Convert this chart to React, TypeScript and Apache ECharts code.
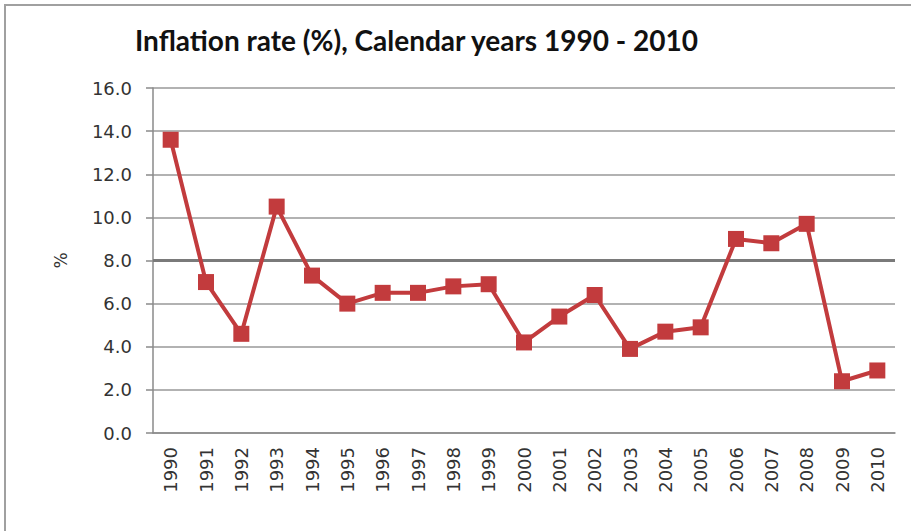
import React, { useEffect, useRef } from "react";
import * as echarts from "echarts";

const years = ["1990","1991","1992","1993","1994","1995","1996","1997","1998","1999","2000","2001","2002","2003","2004","2005","2006","2007","2008","2009","2010"];
const inflation = [13.6, 7.0, 4.6, 10.5, 7.3, 6.0, 6.5, 6.5, 6.8, 6.9, 4.2, 5.4, 6.4, 3.9, 4.7, 4.9, 9.0, 8.8, 9.7, 2.4, 2.9];
const emphasisLevel = 8;
const titleText = "Inflation rate (%), Calendar years 1990 - 2010";

export default function App() {
  const ref = useRef<HTMLDivElement>(null);
  useEffect(() => {
    document.body.style.margin = "0";
    if (!ref.current) return;
    const chart = echarts.init(ref.current, null, { renderer: "svg" });
    chart.setOption({
      animation: false,
      backgroundColor: "#ffffff",
      title: {
        text: titleText,
        left: 130,
        top: 21,
        textStyle: { fontFamily: "Lato", fontWeight: "bold", fontSize: 28, color: "#111111" },
      },
      graphic: [
        {
          type: "rect",
          shape: { x: 5, y: 5, width: 960, height: 600 },
          style: { fill: "none", stroke: "#a0a0a0", lineWidth: 2 },
          silent: true,
        },
      ],
      grid: { left: 153, right: 16, top: 88, bottom: 98 },
      xAxis: {
        type: "category",
        data: years,
        boundaryGap: true,
        axisLine: { lineStyle: { color: "#8a8a8a", width: 1.5 } },
        axisTick: { length: 7, lineStyle: { color: "#8a8a8a", width: 1.5 } },
        axisLabel: {
          rotate: 90,
          margin: 14,
          interval: 0,
          fontFamily: "'DejaVu Sans'",
          fontSize: 18,
          color: "#333333",
        },
      },
      yAxis: {
        type: "value",
        min: 0,
        max: 16,
        interval: 2,
        name: "%",
        nameLocation: "middle",
        nameGap: 84,
        nameTextStyle: { fontFamily: "'DejaVu Sans'", fontSize: 17, color: "#333333" },
        axisLine: { show: true, lineStyle: { color: "#8a8a8a", width: 1.5 } },
        axisTick: { show: true, length: 7, lineStyle: { color: "#8a8a8a", width: 1.5 } },
        axisLabel: {
          margin: 21,
          fontFamily: "'DejaVu Sans'",
          fontSize: 18,
          color: "#333333",
          formatter: (v: number) => v.toFixed(1),
        },
        splitLine: { show: true, lineStyle: { color: "#999999", width: 1.5 } },
      },
      series: [
        {
          type: "line",
          data: inflation,
          symbol: "rect",
          symbolSize: 16,
          lineStyle: { color: "#c23b3d", width: 4 },
          itemStyle: { color: "#c23b3d" },
          markLine: {
            silent: true,
            symbol: "none",
            label: { show: false },
            lineStyle: { color: "#7a7a7a", width: 3, type: "solid" },
            data: [{ yAxis: emphasisLevel }],
            z: 1,
          },
          z: 3,
        },
      ],
    });
    return () => chart.dispose();
  }, []);
  return <div ref={ref} style={{ width: 911, height: 531 }} />;
}
